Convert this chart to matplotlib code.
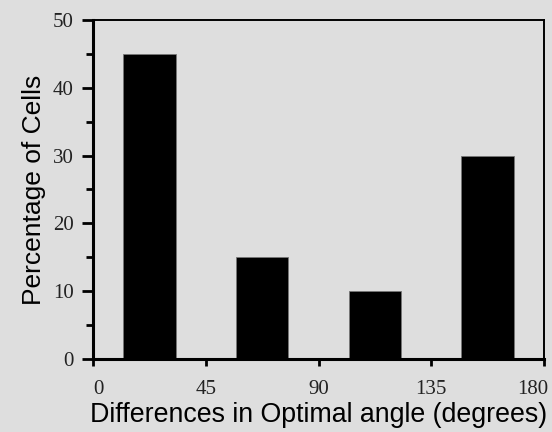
import matplotlib.pyplot as plt
from matplotlib.ticker import MultipleLocator
from matplotlib.transforms import ScaledTranslation

# Datos del histograma
centros = [22.5, 67.5, 112.5, 157.5]
porcentajes = [45, 15, 10, 30]
ticks_x = [0, 45, 90, 135, 180]
ticks_y = [0, 10, 20, 30, 40, 50]

fondo = '#dedede'

fig = plt.figure(figsize=(5.52, 4.32), dpi=100, facecolor=fondo)
ax = fig.add_axes([0.1685, 0.169, 0.817, 0.785], facecolor=fondo)

ax.bar(centros, porcentajes, width=21, color='black', edgecolor='#777777', linewidth=0.6)

ax.set_xlim(0, 180)
ax.set_ylim(0, 50)
ax.set_xticks(ticks_x)
ax.set_yticks(ticks_y)
ax.yaxis.set_minor_locator(MultipleLocator(5))

for lado in ['left', 'bottom']:
    ax.spines[lado].set_linewidth(2.2)
for lado in ['top', 'right']:
    ax.spines[lado].set_linewidth(1.4)

ax.tick_params(axis='x', which='major', direction='out', length=5, width=2,
               labelsize=15, pad=10)
ax.tick_params(axis='y', which='major', direction='out', length=8, width=2,
               labelsize=15, pad=6)
ax.tick_params(axis='y', which='minor', direction='out', length=5, width=2)
for lbl in ax.get_xticklabels() + ax.get_yticklabels():
    lbl.set_fontfamily('Liberation Serif')
    lbl.set_color('#222222')

# Ajuste de las etiquetas de los extremos
etiquetas_x = ax.get_xticklabels()
etiquetas_x[0].set_transform(etiquetas_x[0].get_transform() +
                             ScaledTranslation(5 / 100, 0, fig.dpi_scale_trans))
etiquetas_x[-1].set_transform(etiquetas_x[-1].get_transform() +
                              ScaledTranslation(-11 / 100, 0, fig.dpi_scale_trans))

ax.set_xlabel('Differences in Optimal angle (degrees)', fontsize=19.3,
              family='Liberation Sans', labelpad=2)
ax.set_ylabel('Percentage of Cells', fontsize=19, family='Liberation Sans', labelpad=5)

fig.savefig('out.png', dpi=100, facecolor=fondo)
